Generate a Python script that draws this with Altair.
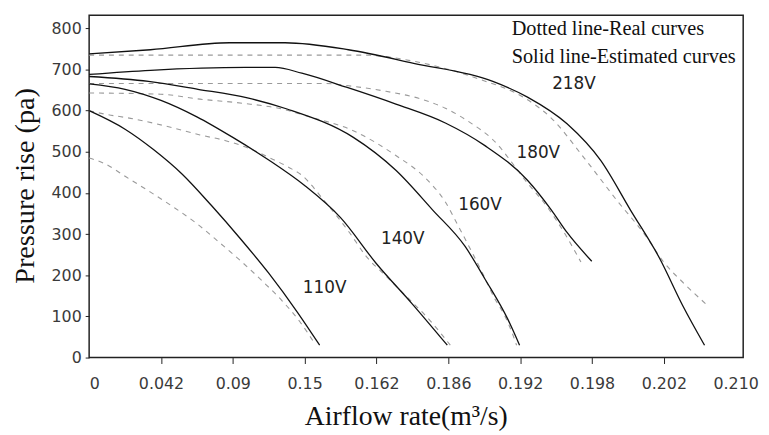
import json
import altair as alt
import pandas as pd

# x positions are expressed in tick-index units (0 = "0", 9 = "0.210")
x_labels = ["0", "0.042", "0.09", "0.15", "0.162", "0.186", "0.192", "0.198", "0.202", "0.210"]
y_ticks = [0, 100, 200, 300, 400, 500, 600, 700, 800]

# Solid = estimated curves, dashed = real curves
s218_x = [0, 0.854, 1.956, 2.727, 3.609, 4.518, 5.620, 6.102, 6.653, 7.121, 7.534, 7.948, 8.264, 8.567]
s218_y = [738, 748, 765, 765, 748, 715, 671, 633, 568, 479, 359, 239, 126, 30]
d218_x = [0, 3.829, 4.518, 5.441, 6.061, 6.433, 6.887, 7.342, 7.755, 7.989, 8.264, 8.581]
d218_y = [735, 735, 720, 676, 631, 582, 486, 383, 294, 234, 183, 131]

s180_x = [0, 0.854, 2.176, 2.590, 2.961, 3.581, 4.270, 4.959, 5.510, 6.102, 6.433, 6.653, 6.997]
s180_y = [688, 698, 705, 705, 691, 657, 616, 570, 515, 431, 359, 304, 234]
d180_x = [0, 3.264, 3.678, 4.132, 4.587, 4.959, 5.331, 5.606, 6.102, 6.377, 6.612, 6.846]
d180_y = [666, 666, 659, 647, 630, 606, 568, 532, 424, 366, 304, 232]

s160_x = [0, 0.826, 1.515, 2.204, 2.755, 3.678, 4.270, 4.780, 5.234, 5.510, 5.826, 5.992]
s160_y = [683, 671, 652, 631, 604, 535, 455, 359, 270, 191, 94, 30]
d160_x = [0, 0.992, 1.543, 2.135, 2.686, 3.030, 3.678, 4.270, 4.683, 4.959, 5.138, 5.468, 5.647, 5.785, 5.882, 5.950]
d160_y = [643, 640, 628, 618, 604, 587, 551, 491, 436, 378, 320, 208, 143, 102, 63, 30]

s140_x = [0, 0.5, 1.0, 1.5, 2.0, 2.5, 3.0, 3.5, 4.0, 4.5, 4.986]
s140_y = [665, 652, 625, 585, 535, 480, 418, 340, 228, 130, 30]
d140_x = [0, 0.207, 0.620, 1.171, 1.543, 1.901, 2.231, 2.507, 2.782, 2.961, 3.264, 3.623, 3.857, 4.132, 4.449, 4.725, 5.028]
d140_y = [600, 592, 580, 558, 541, 527, 508, 486, 462, 443, 383, 304, 246, 198, 143, 94, 30]

s110_x = [0, 0.5, 0.9, 1.3, 1.7, 2.1, 2.5, 2.9, 3.209]
s110_y = [600, 555, 505, 445, 370, 290, 205, 110, 30]
d110_x = [0, 0.207, 0.523, 0.854, 1.171, 1.488, 1.818, 2.135, 2.410, 2.686, 2.934, 3.140]
d110_y = [485, 472, 438, 402, 366, 327, 279, 231, 186, 138, 87, 34]

volt_names = ["218V", "180V", "160V", "140V", "110V"]
volt_label_x = [6.749, 6.253, 5.441, 4.366, 3.278]
volt_label_y = [664, 498, 371, 287, 169]

legend_lines = ["Dotted line-Real curves", "Solid line-Estimated curves"]

curves = [
    ("218V", "solid", s218_x, s218_y), ("218V", "dashed", d218_x, d218_y),
    ("180V", "solid", s180_x, s180_y), ("180V", "dashed", d180_x, d180_y),
    ("160V", "solid", s160_x, s160_y), ("160V", "dashed", d160_x, d160_y),
    ("140V", "solid", s140_x, s140_y), ("140V", "dashed", d140_x, d140_y),
    ("110V", "solid", s110_x, s110_y), ("110V", "dashed", d110_x, d110_y),
]
rows = []
for name, kind, xs, ys in curves:
    for i, (xv, yv) in enumerate(zip(xs, ys)):
        rows.append({"curve": name + "-" + kind, "kind": kind, "x": xv, "y": yv, "ord": i})
df = pd.DataFrame(rows)
labels_df = pd.DataFrame({"name": volt_names, "x": volt_label_x, "y": volt_label_y})

label_expr = json.dumps(x_labels) + "[round(datum.value)]"
last_tick = len(x_labels) - 1

x_scale = alt.Scale(domain=[0, 9.105], nice=False, zero=False)
y_scale = alt.Scale(domain=[0, 832], nice=False)

x_axis = alt.Axis(
    values=list(range(len(x_labels))), labelExpr=label_expr, grid=False, domain=False,
    tickSize=6, tickColor="#222",
    tickOpacity={"condition": {"test": f"datum.value == 0 || datum.value == {last_tick}", "value": 0}, "value": 1},
    labelPadding=12, labelFont="DejaVu Sans", labelFontSize=16,
    labelColor="#3a3a3a", title="Airflow rate(m³/s)", titleFont="Liberation Serif",
    titleFontSize=28, titleFontWeight="normal", titleColor="#111", titleX=320, titleY=68,
    titleAlign="center", titleBaseline="alphabetic",
)
y_axis = alt.Axis(
    values=y_ticks, grid=False, domain=False, tickSize=4, tickColor="#222", labelPadding=4,
    labelFont="DejaVu Sans", labelFontSize=16, labelColor="#3a3a3a",
    title="Pressure rise (pa)", titleFont="Liberation Serif", titleFontSize=28.5,
    titleFontWeight="normal", titleColor="#111", titleAngle=270, titleX=-65, titleY=172,
    titleAlign="center", titleBaseline="middle",
)

base = alt.Chart(df)
solid = base.transform_filter(alt.datum.kind == "solid").mark_line(
    color="#111", strokeWidth=1.3, interpolate="monotone"
).encode(
    x=alt.X("x:Q", scale=x_scale, axis=x_axis),
    y=alt.Y("y:Q", scale=y_scale, axis=y_axis),
    detail="curve:N", order="ord:Q",
)
dashed = base.transform_filter(alt.datum.kind == "dashed").mark_line(
    color="#9a9a9a", strokeWidth=1.1, strokeDash=[5, 5], interpolate="monotone"
).encode(
    x=alt.X("x:Q", scale=x_scale),
    y=alt.Y("y:Q", scale=y_scale),
    detail="curve:N", order="ord:Q",
)
volt_text = alt.Chart(labels_df).mark_text(
    font="DejaVu Sans", fontSize=17, color="#222", align="center", baseline="middle"
).encode(
    x=alt.X("x:Q", scale=x_scale), y=alt.Y("y:Q", scale=y_scale), text="name:N"
)
legend1 = alt.Chart(pd.DataFrame({"t": [legend_lines[0]]})).mark_text(
    font="Liberation Serif", fontSize=20.5, color="#111", align="left", baseline="alphabetic"
).encode(x=alt.value(427), y=alt.value(20), text="t:N")
legend2 = alt.Chart(pd.DataFrame({"t": [legend_lines[1]]})).mark_text(
    font="Liberation Serif", fontSize=20.5, color="#111", align="left", baseline="alphabetic"
).encode(x=alt.value(427), y=alt.value(48), text="t:N")

chart = alt.layer(dashed, solid, volt_text, legend1, legend2).properties(
    width=661, height=346,
    autosize=alt.AutoSizeParams(type="none"),
    padding={"left": 82, "top": 5, "right": 18, "bottom": 76},
).configure_view(stroke="#222", strokeWidth=1.5)

chart.save("out.html", embed_options={"renderer": "svg", "actions": False})
